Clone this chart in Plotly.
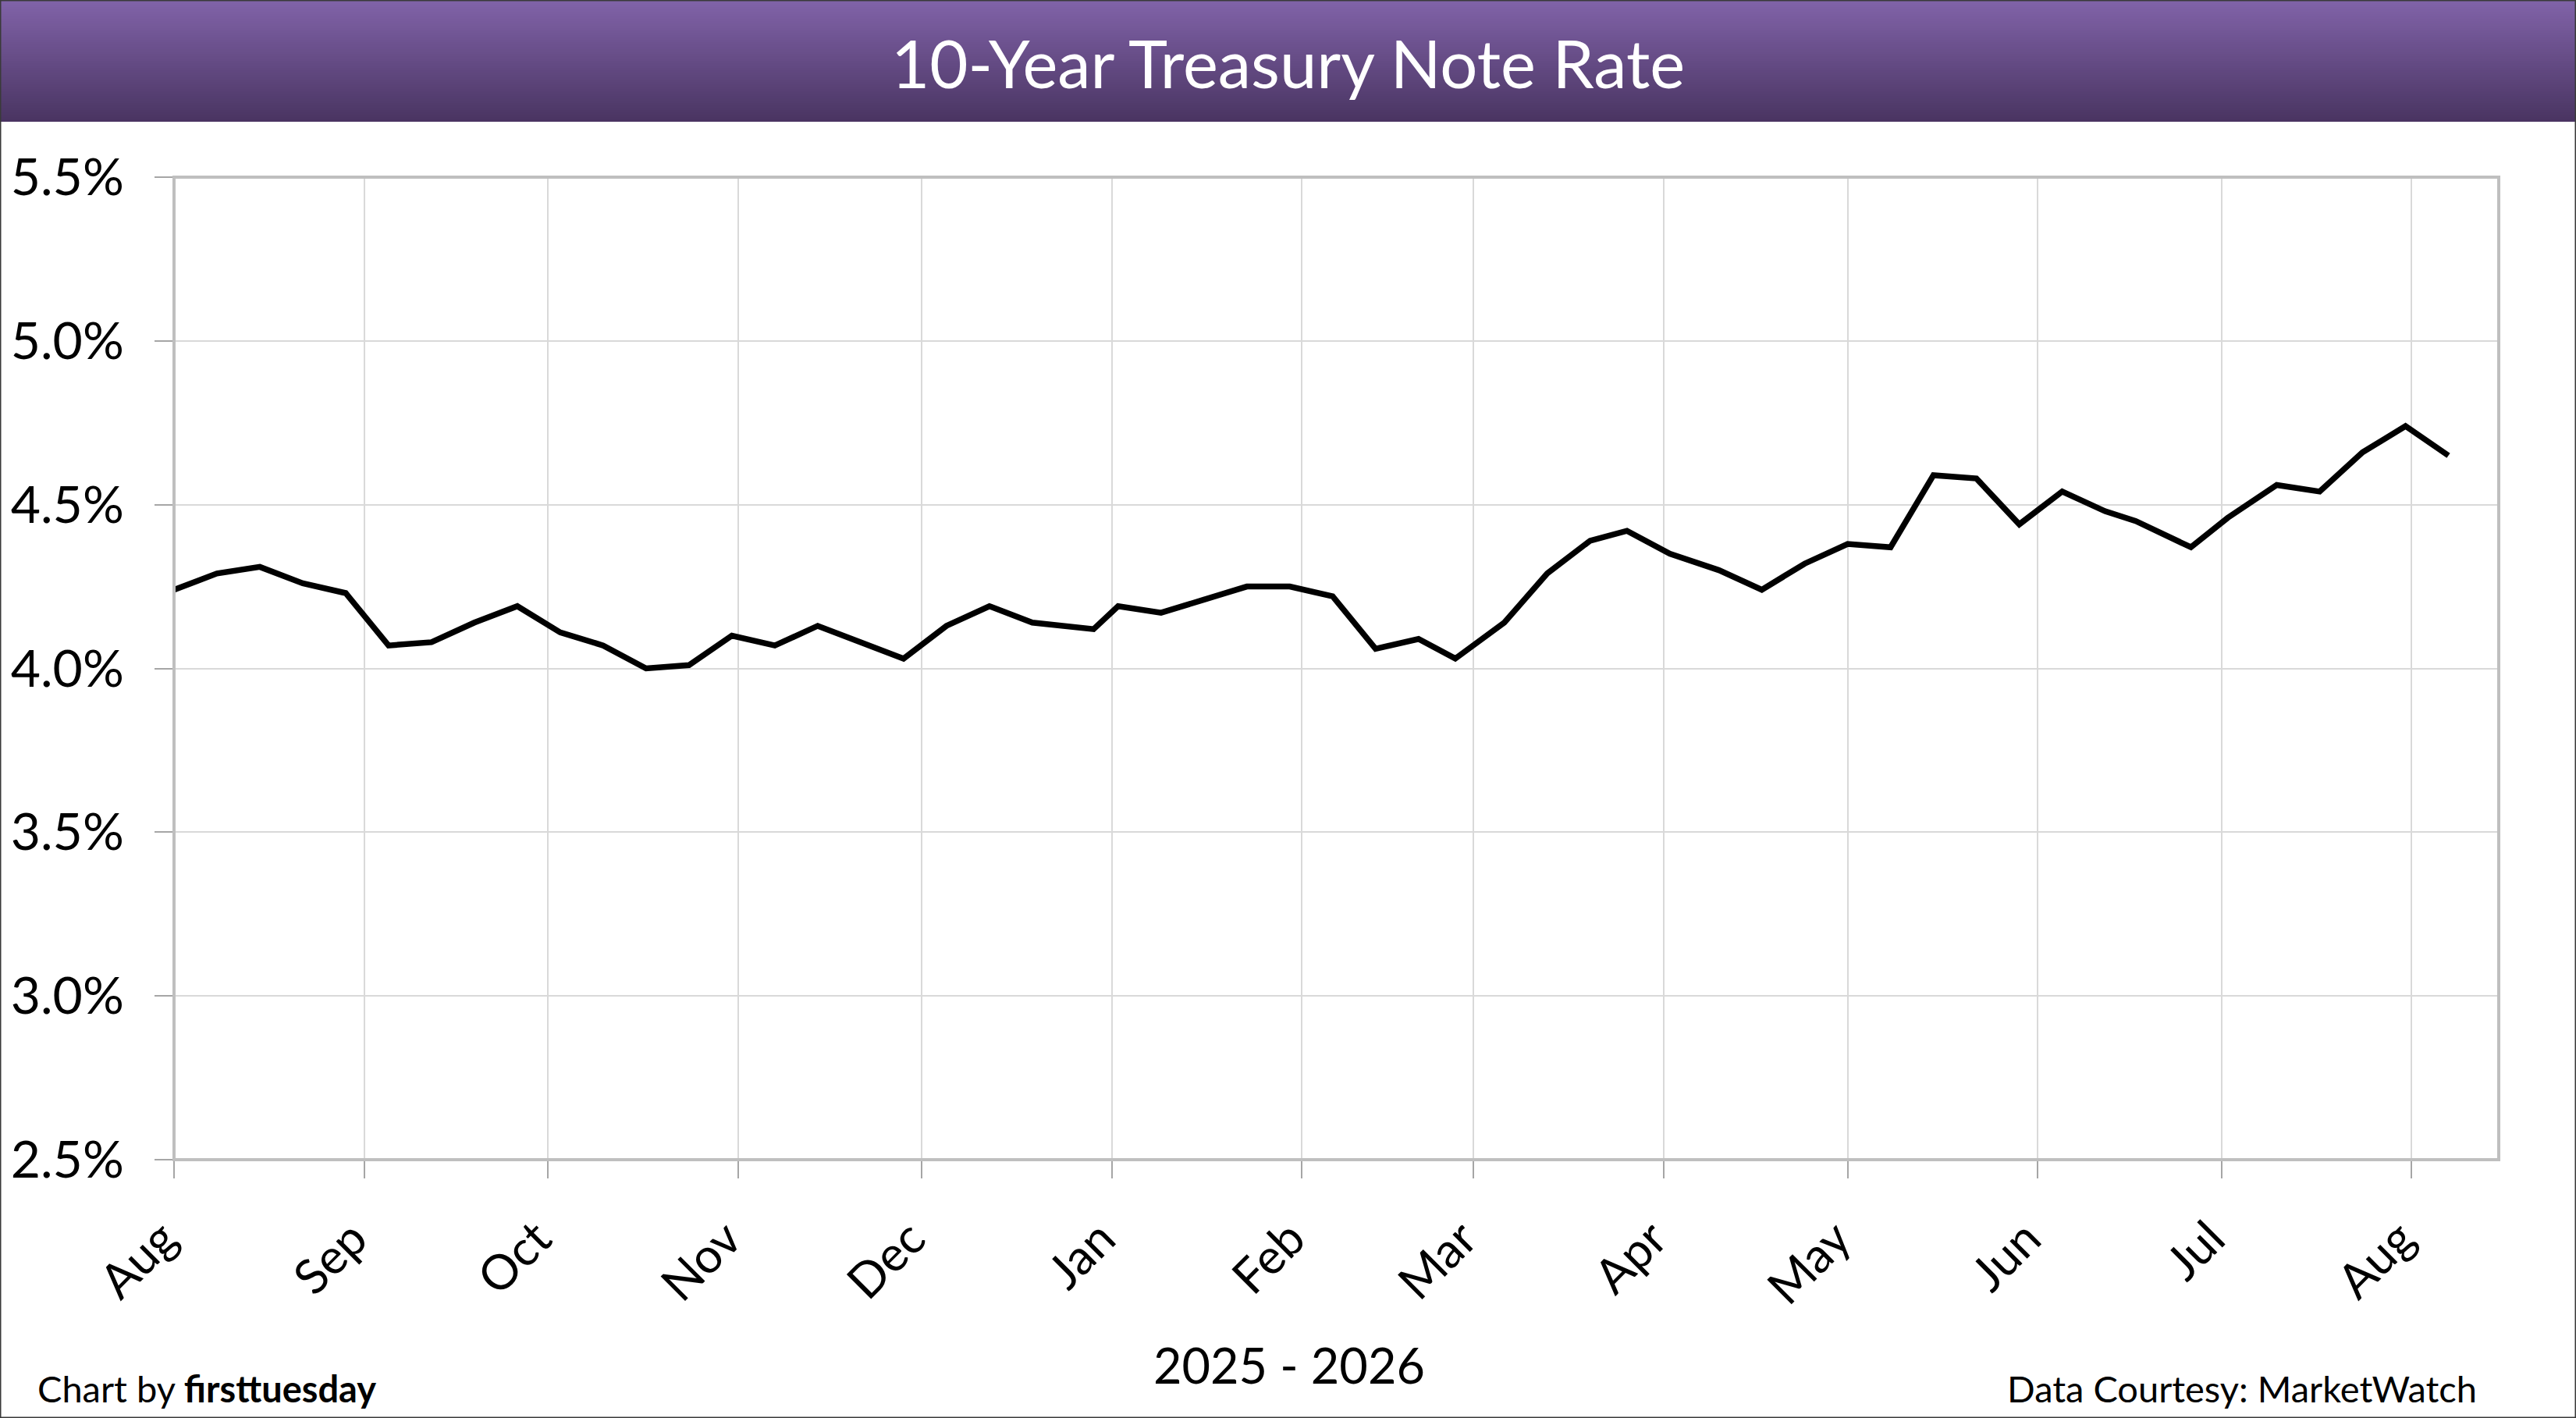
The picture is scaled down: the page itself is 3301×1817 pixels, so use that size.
import plotly.graph_objects as go

# ---------------- data ----------------
dates = [
    "2025-08-01", "2025-08-08", "2025-08-15", "2025-08-22", "2025-08-29",
    "2025-09-05", "2025-09-12", "2025-09-19", "2025-09-26",
    "2025-10-03", "2025-10-10", "2025-10-17", "2025-10-24", "2025-10-31",
    "2025-11-07", "2025-11-14", "2025-11-21", "2025-11-28",
    "2025-12-05", "2025-12-12", "2025-12-19", "2025-12-29",
    "2026-01-02", "2026-01-09", "2026-01-16", "2026-01-23", "2026-01-30",
    "2026-02-06", "2026-02-13", "2026-02-20", "2026-02-26",
    "2026-03-06", "2026-03-13", "2026-03-20", "2026-03-26",
    "2026-04-02", "2026-04-10", "2026-04-17", "2026-04-24",
    "2026-05-01", "2026-05-08", "2026-05-15", "2026-05-22", "2026-05-29",
    "2026-06-05", "2026-06-12", "2026-06-17", "2026-06-26",
    "2026-07-02", "2026-07-10", "2026-07-17", "2026-07-24", "2026-07-31",
    "2026-08-07",
]
rates = [
    4.24, 4.29, 4.31, 4.26, 4.23,
    4.07, 4.08, 4.14, 4.19,
    4.11, 4.07, 4.00, 4.01, 4.10,
    4.07, 4.13, 4.08, 4.03,
    4.13, 4.19, 4.14, 4.12,
    4.19, 4.17, 4.21, 4.25, 4.25,
    4.22, 4.06, 4.09, 4.03,
    4.14, 4.29, 4.39, 4.42,
    4.35, 4.30, 4.24, 4.32,
    4.38, 4.37, 4.59, 4.58, 4.44,
    4.54, 4.48, 4.45, 4.37,
    4.46, 4.56, 4.54, 4.66, 4.74,
    4.65,
]
y_tick_values = [2.5, 3.0, 3.5, 4.0, 4.5, 5.0, 5.5]
y_tick_labels = ["2.5%", "3.0%", "3.5%", "4.0%", "4.5%", "5.0%", "5.5%"]
x_range = ["2025-08-01", "2026-08-15 05:00"]
title_text = "10-Year Treasury Note Rate"
x_title_text = "2025 - 2026"
credit_left = "Chart by <b>firsttuesday</b>"
credit_right = "Data Courtesy: MarketWatch"

# ---------------- layout geometry (pixels) ----------------
W, H = 3301, 1817
L, R, T, B = 223, 3202, 227, 1486
BAND_H = 156
FONT = "Lato"


def px(xp):
    return xp / W


def py(yp):
    return 1 - yp / H


fig = go.Figure(
    go.Scatter(
        x=dates, y=rates, mode="lines",
        line=dict(color="black", width=7.5),
        hoverinfo="skip",
    )
)

fig.update_layout(
    width=W, height=H,
    margin=dict(l=0, r=0, t=0, b=0),
    paper_bgcolor="white", plot_bgcolor="white",
    showlegend=False,
    font=dict(family=FONT, color="black"),
)

fig.update_xaxes(
    domain=[px(L), px(R)], type="date", range=x_range,
    tick0="2025-08-01", dtick="M1", tickformat="%b", tickangle=-45,
    ticks="outside", ticklen=22, tickwidth=2, tickcolor="#A6A6A6",
    showgrid=True, gridcolor="#D9D9D9", gridwidth=2,
    showline=True, linecolor="#A6A6A6", linewidth=2,
    tickfont=dict(family=FONT, size=62, color="black"),
    ticklabelstandoff=16, ticklabelshift=-14,
    automargin=False, zeroline=False,
)
fig.update_yaxes(
    domain=[py(B), py(T)], range=[2.5, 5.5],
    tickmode="array", tickvals=y_tick_values, ticktext=y_tick_labels,
    ticks="outside", ticklen=23, tickwidth=2, tickcolor="#A6A6A6",
    showgrid=True, gridcolor="#D9D9D9", gridwidth=2,
    showline=True, linecolor="#A6A6A6", linewidth=2,
    tickfont=dict(family=FONT, size=66, color="black"),
    ticklabelstandoff=26,
    automargin=False, zeroline=False,
)

shapes = []
# title band gradient (stacked strips)
top_c = (129, 99, 169)
bot_c = (73, 52, 97)
n = 52
step = BAND_H / n
for i in range(n):
    t = (i + 0.5) / n
    c = tuple(round(top_c[k] + (bot_c[k] - top_c[k]) * t) for k in range(3))
    shapes.append(dict(
        type="rect", xref="paper", yref="paper", layer="above",
        x0=0, x1=1, y0=py(min(BAND_H, (i + 1) * step + 0.6)), y1=py(i * step),
        fillcolor="rgb(%d,%d,%d)" % c, line=dict(width=0),
    ))
# plot area border
shapes.append(dict(
    type="rect", xref="paper", yref="paper", layer="above",
    x0=px(L), x1=px(R), y0=py(B), y1=py(T),
    line=dict(color="#BFBFBF", width=4), fillcolor="rgba(0,0,0,0)",
))
# outer chart border
shapes.append(dict(
    type="rect", xref="paper", yref="paper", layer="above",
    x0=0, x1=1, y0=0, y1=1,
    line=dict(color="#3A3A3A", width=3), fillcolor="rgba(0,0,0,0)",
))
fig.update_layout(shapes=shapes)

annotations = [
    dict(text=title_text, x=0.5, y=py(80), xref="paper", yref="paper",
         xanchor="center", yanchor="middle", showarrow=False,
         font=dict(family=FONT, size=85, color="white")),
    dict(text=x_title_text, x=px(1652), y=py(1748), xref="paper", yref="paper",
         xanchor="center", yanchor="middle", showarrow=False,
         font=dict(family=FONT, size=63, color="black")),
    dict(text=credit_left, x=px(46), y=py(1779), xref="paper", yref="paper",
         xanchor="left", yanchor="middle", showarrow=False,
         font=dict(family=FONT, size=47, color="black")),
    dict(text=credit_right, x=px(3176), y=py(1779), xref="paper", yref="paper",
         xanchor="right", yanchor="middle", showarrow=False,
         font=dict(family=FONT, size=47, color="black")),
]
fig.update_layout(annotations=annotations)

fig.write_html(
    "out.html",
    config={"displayModeBar": False},
    post_script="document.body.style.margin='0';document.body.style.overflow='hidden';",
)
